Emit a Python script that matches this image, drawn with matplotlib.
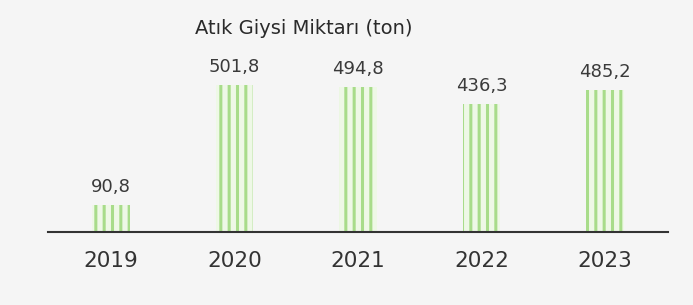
import matplotlib.pyplot as plt
import matplotlib as mpl

years = ['2019', '2020', '2021', '2022', '2023']
values = [90.8, 501.8, 494.8, 436.3, 485.2]
labels = ['90,8', '501,8', '494,8', '436,3', '485,2']

mpl.rcParams['hatch.linewidth'] = 2.2
mpl.rcParams['font.family'] = ['DejaVu Sans']

fig = plt.figure(figsize=(6.93, 3.05), dpi=100)
fig.patch.set_facecolor('#f5f5f5')
ax = fig.add_axes([48/693, (305-232)/305, 620/693, 202/305])
ax.set_facecolor('#f5f5f5')

x = range(len(years))
ax.bar(x, values, width=0.3, color='#eef8e6', edgecolor='#a8dc8a',
       hatch='||', linewidth=0)

# value labels about 13 px above the bar tops
for i, v in enumerate(values):
    ax.annotate(labels[i], (i, v), xytext=(0, 13), textcoords='offset pixels',
                ha='center', va='baseline', fontsize=13, color='#3a3a3a')

ax.set_xlim(-0.51, 4.51)
ax.set_ylim(0, 690)
ax.set_xticks(list(x))
ax.set_xticklabels(years, fontsize=15.5, color='#333333')
ax.tick_params(axis='x', length=0, pad=14)
ax.set_yticks([])
for s in ['top', 'right', 'left']:
    ax.spines[s].set_visible(False)
ax.spines['bottom'].set_color('#333333')
ax.spines['bottom'].set_linewidth(1.5)

fig.text(304/693, 1 - 29/305, 'Atık Giysi Miktarı (ton)', ha='center', va='center',
         fontsize=14, color='#2a2a2a')

fig.savefig('out.png', dpi=100, facecolor=fig.get_facecolor())
